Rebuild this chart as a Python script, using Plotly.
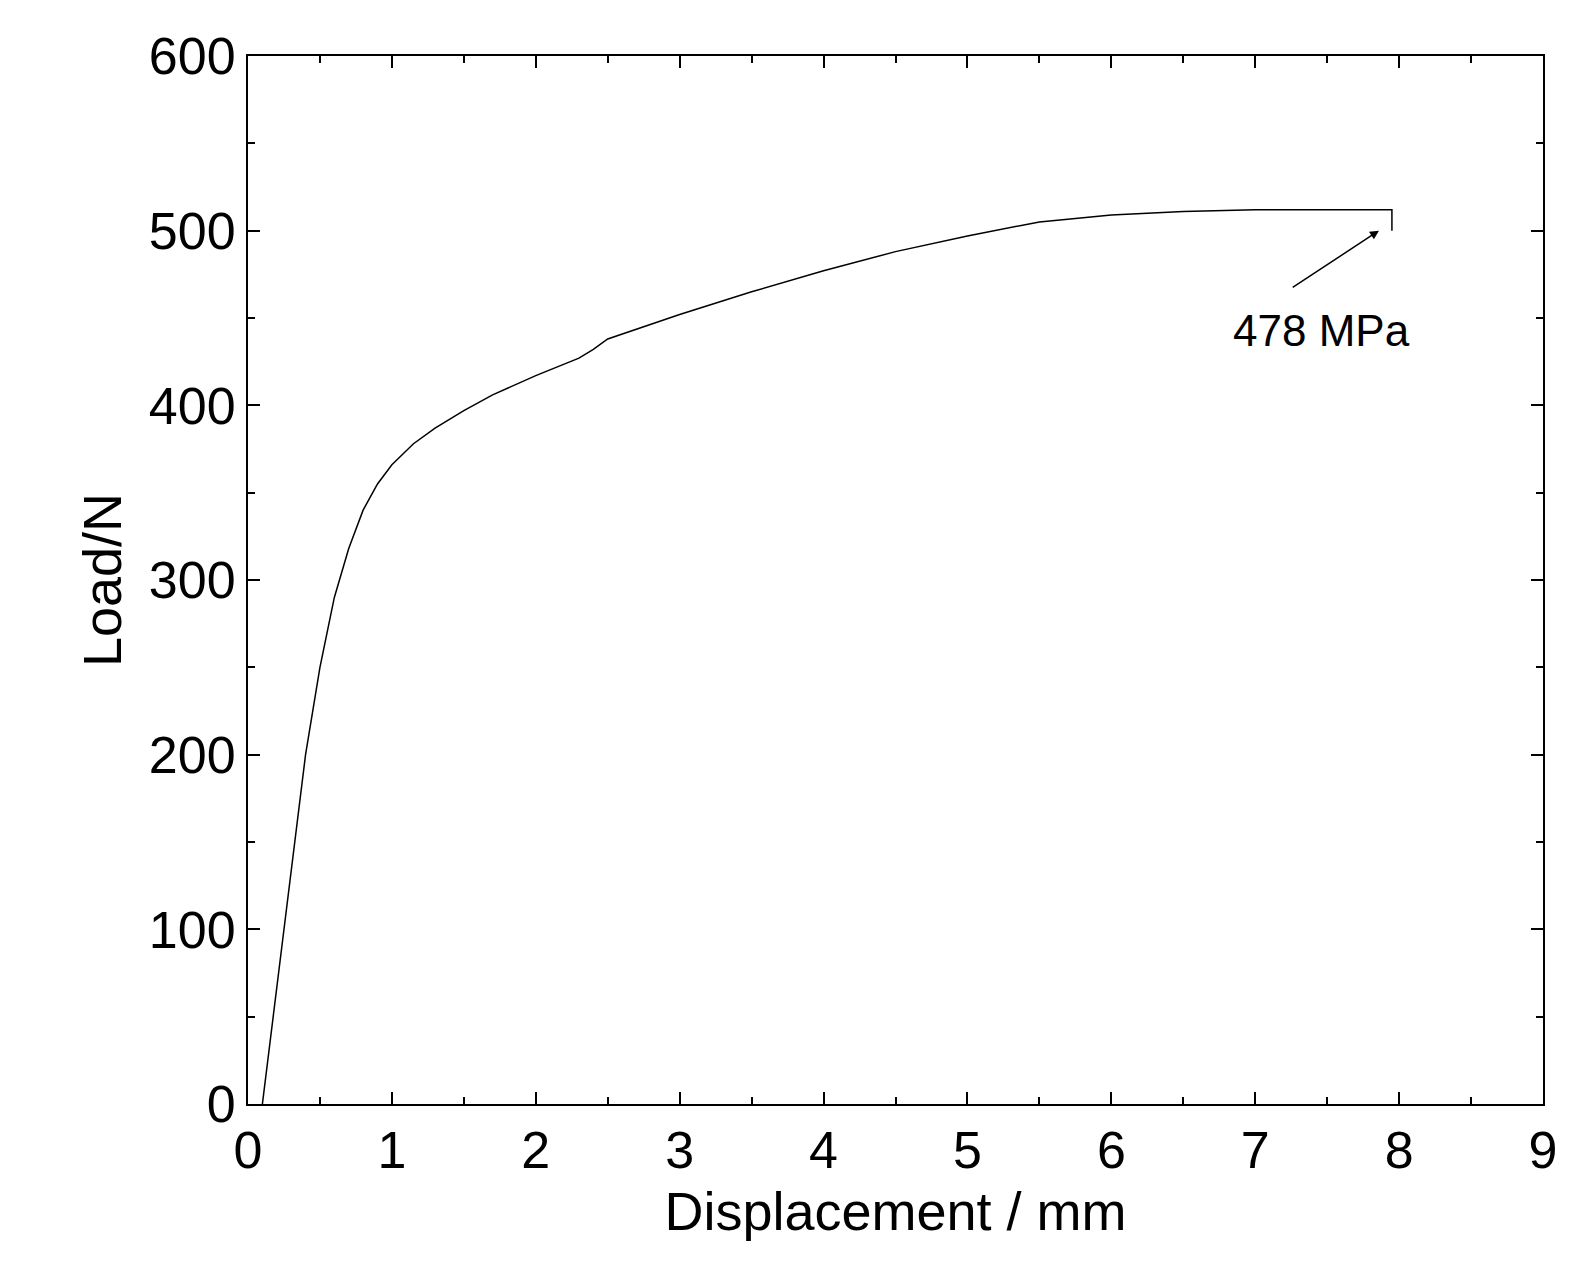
import plotly.graph_objects as go

# Load-displacement curve
displacement = [0.1, 0.25, 0.4, 0.5, 0.6, 0.7, 0.8, 0.9, 1.0, 1.15, 1.3, 1.5, 1.7, 2.0, 2.3, 2.4, 2.5,
                3.0, 3.5, 4.0, 4.5, 5.0, 5.5, 6.0, 6.5, 7.0, 7.5, 7.95, 7.95]
load = [0, 100, 200, 250, 290, 318, 340, 355, 366, 378, 387, 397, 406, 417, 427, 432, 438,
        452, 465, 477, 488, 497, 505, 509, 511, 512, 512, 512, 500]

axis_style = dict(
    showline=True, linecolor='black', linewidth=2, mirror='ticks',
    ticks='inside', ticklen=12, tickwidth=2, tickcolor='black',
    showgrid=False, zeroline=False,
    tickfont=dict(family='Liberation Sans, Arial', size=52, color='black'),
    minor=dict(ticks='inside', ticklen=7, tickwidth=2, tickcolor='black'),
)

fig = go.Figure(go.Scatter(x=displacement, y=load, mode='lines',
                           line=dict(color='black', width=1.5)))

fig.update_layout(
    width=1579, height=1280,
    plot_bgcolor='white', paper_bgcolor='white',
    showlegend=False,
    margin=dict(l=240, r=44, t=48, b=184),
    xaxis=dict(axis_style, range=[0, 9], dtick=1, minor_dtick=0.5,
               title=dict(text='Displacement / mm', standoff=14,
                          font=dict(family='Liberation Sans, Arial', size=54, color='black'))),
    yaxis=dict(axis_style, range=[0, 600], dtick=100, minor_dtick=50,
               title=dict(text='Load/N', standoff=10,
                          font=dict(family='Liberation Sans, Arial', size=54, color='black'))),
)

fig.add_annotation(x=7.86, y=500, ax=7.25, ay=467, xref='x', yref='y', axref='x', ayref='y',
                   text='', showarrow=True, arrowhead=2, arrowsize=1.2, arrowwidth=1.5,
                   arrowcolor='black')
fig.add_annotation(x=7.46, y=443, xref='x', yref='y', text='478 MPa', showarrow=False,
                   font=dict(family='Liberation Sans, Arial', size=44, color='black'))

fig.write_html("out.html")
